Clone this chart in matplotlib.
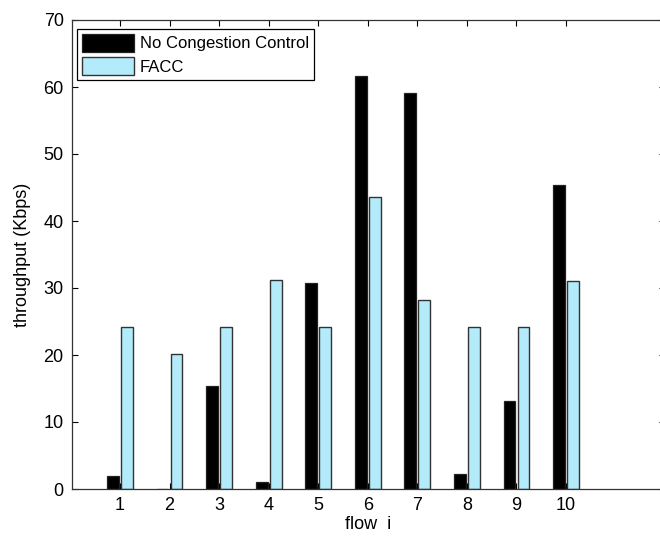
import matplotlib
matplotlib.use("Agg")
import matplotlib.pyplot as plt
import numpy as np

flows = [1, 2, 3, 4, 5, 6, 7, 8, 9, 10]
no_cc = [1.9, 0.0, 15.4, 1.0, 30.8, 61.6, 59.1, 2.2, 13.2, 45.3]
facc = [24.2, 20.2, 24.2, 31.2, 24.2, 43.6, 28.2, 24.2, 24.2, 31.1]
yticks = [0, 10, 20, 30, 40, 50, 60, 70]

plt.rcParams['font.family'] = ['Liberation Sans', 'DejaVu Sans']

fig = plt.figure(figsize=(6.6, 5.36), dpi=100)
W, H = 660, 536
ax = fig.add_axes([72 / W, 47 / H, 593 / W, 469 / H])

x = np.array(flows, dtype=float)
bw = 0.236
off = 0.141
ax.bar(x - off, no_cc, width=bw, color='black', edgecolor='#222222',
       linewidth=0.9, label='No Congestion Control')
ax.bar(x + off, facc, width=bw, color='#b3ebfb', edgecolor='#333333',
       linewidth=1.0, label='FACC')

ax.set_xlim(0.03, 12)
ax.set_ylim(0, 70)
ax.set_xticks(flows)
ax.set_yticks(yticks)
ax.tick_params(direction='in', length=4.3, width=0.8, top=True, right=True,
               labelsize=13, colors='black', pad=6)
for s in ax.spines.values():
    s.set_linewidth(0.9)
    s.set_color('#333333')

ax.set_xlabel('flow  i', fontsize=13, labelpad=1)
ax.set_ylabel('throughput (Kbps)', fontsize=13, labelpad=9)

leg = ax.legend(loc='upper left', bbox_to_anchor=(77 / W, 1 - 29 / H),
                bbox_transform=fig.transFigure, fontsize=12,
                handlelength=3.1, handleheight=1.25, handletextpad=0.35,
                labelspacing=0.35, borderpad=0.3, borderaxespad=0,
                fancybox=False, framealpha=1, edgecolor='black')
leg.get_frame().set_linewidth(0.9)

fig.savefig('out.png', dpi=100)
